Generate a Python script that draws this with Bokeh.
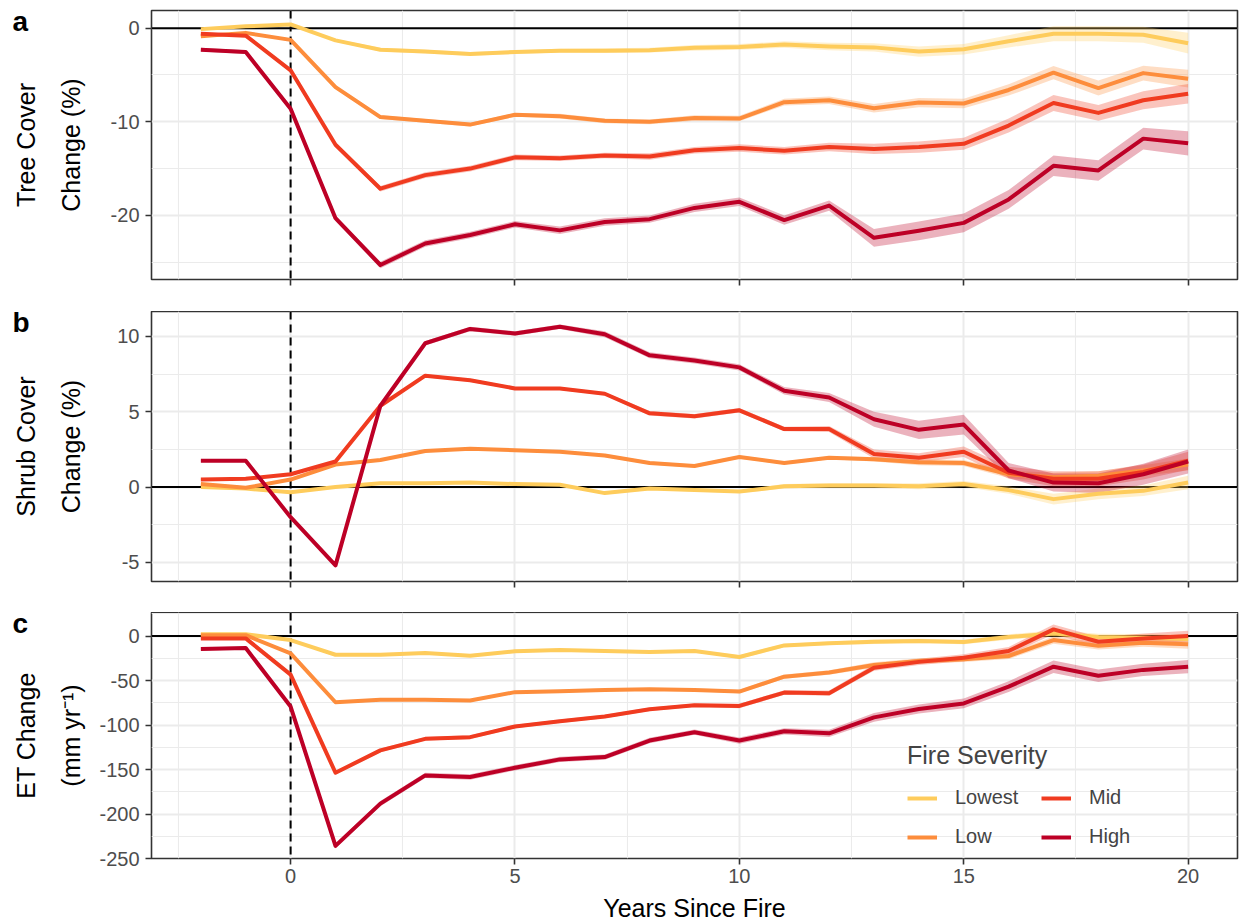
import math
from bokeh.plotting import figure
from bokeh.models import FixedTicker, Range1d, Span, Legend, LegendItem
from bokeh.layouts import column, row
from bokeh.core.properties import value
from bokeh.embed import file_html
from bokeh.resources import INLINE

# ---- data -----------------------------------------------------------------
years = [-2, -1, 0, 1, 2, 3, 4, 5, 6, 7, 8, 9, 10,
         11, 12, 13, 14, 15, 16, 17, 18, 19, 20]
severity = ["Lowest", "Low", "Mid", "High"]
colors = ["#FECC5C", "#FD8D3C", "#F03B20", "#BD0026"]

# Tree cover change (%) and 95% CI half-widths
tree_lowest = [-0.1, 0.2, 0.4, -1.3, -2.3, -2.5, -2.75, -2.55, -2.4, -2.4, -2.35, -2.1,
               -2.0, -1.75, -1.95, -2.05, -2.5, -2.25, -1.4, -0.6, -0.6, -0.7, -1.6]
tree_low = [-0.85, -0.5, -1.25, -6.3, -9.5, -9.9, -10.3, -9.25, -9.4, -9.9, -10.0, -9.6,
            -9.65, -7.9, -7.7, -8.55, -7.95, -8.05, -6.6, -4.75, -6.4, -4.8, -5.4]
tree_mid = [-0.6, -0.8, -4.5, -12.45, -17.15, -15.7, -15.0, -13.8, -13.9, -13.6, -13.7, -13.05,
            -12.8, -13.1, -12.7, -12.9, -12.7, -12.35, -10.4, -8.0, -9.05, -7.7, -7.0]
tree_high = [-2.3, -2.55, -8.6, -20.3, -25.3, -23.0, -22.1, -20.95, -21.6, -20.7, -20.4, -19.2,
             -18.55, -20.5, -18.95, -22.4, -21.65, -20.8, -18.3, -14.7, -15.2, -11.8, -12.3]
tree_lowest_ci = [0.1, 0.1, 0.1, 0.15, 0.2, 0.2, 0.2, 0.2, 0.2, 0.25, 0.25, 0.3,
                  0.3, 0.35, 0.4, 0.45, 0.55, 0.55, 0.65, 0.8, 0.8, 0.85, 1.1]
tree_low_ci = [0.1, 0.1, 0.15, 0.2, 0.2, 0.2, 0.2, 0.2, 0.25, 0.25, 0.25, 0.3,
               0.3, 0.35, 0.4, 0.45, 0.5, 0.5, 0.6, 0.7, 0.8, 0.8, 0.95]
tree_mid_ci = [0.15, 0.15, 0.2, 0.25, 0.3, 0.3, 0.3, 0.3, 0.3, 0.3, 0.35, 0.35,
               0.4, 0.4, 0.45, 0.55, 0.6, 0.65, 0.75, 0.85, 0.85, 0.95, 1.05]
tree_high_ci = [0.2, 0.2, 0.25, 0.3, 0.35, 0.35, 0.35, 0.35, 0.4, 0.4, 0.4, 0.45,
                0.45, 0.5, 0.55, 0.95, 1.0, 1.0, 1.0, 1.1, 1.1, 1.15, 1.3]

# Shrub cover change (%)
shrub_lowest = [0.0, -0.1, -0.35, 0.0, 0.25, 0.25, 0.3, 0.2, 0.15, -0.4, -0.1, -0.2,
                -0.3, 0.05, 0.1, 0.1, 0.05, 0.2, -0.2, -0.8, -0.45, -0.25, 0.3]
shrub_low = [0.2, -0.05, 0.5, 1.5, 1.8, 2.4, 2.55, 2.45, 2.35, 2.1, 1.6, 1.4,
             2.0, 1.6, 1.95, 1.85, 1.65, 1.6, 0.85, 0.65, 0.75, 1.1, 1.5]
shrub_mid = [0.5, 0.55, 0.85, 1.7, 5.4, 7.4, 7.1, 6.55, 6.55, 6.2, 4.9, 4.7,
             5.1, 3.85, 3.85, 2.2, 1.95, 2.35, 0.95, 0.55, 0.55, 1.0, 1.75]
shrub_high = [1.75, 1.75, -2.0, -5.2, 5.4, 9.55, 10.5, 10.2, 10.65, 10.15, 8.75, 8.4,
              7.95, 6.4, 5.95, 4.5, 3.8, 4.15, 1.1, 0.3, 0.25, 0.85, 1.7]
shrub_lowest_ci = [0.05, 0.05, 0.05, 0.05, 0.05, 0.05, 0.05, 0.05, 0.05, 0.1, 0.1, 0.1,
                   0.1, 0.15, 0.15, 0.15, 0.2, 0.2, 0.25, 0.35, 0.35, 0.35, 0.45]
shrub_low_ci = [0.05, 0.05, 0.05, 0.05, 0.05, 0.05, 0.05, 0.05, 0.05, 0.1, 0.1, 0.1,
                0.1, 0.1, 0.1, 0.15, 0.2, 0.2, 0.25, 0.3, 0.3, 0.35, 0.4]
shrub_mid_ci = [0.05, 0.05, 0.05, 0.05, 0.1, 0.1, 0.1, 0.1, 0.1, 0.1, 0.15, 0.15,
                0.15, 0.15, 0.2, 0.3, 0.3, 0.35, 0.4, 0.5, 0.5, 0.5, 0.6]
shrub_high_ci = [0.05, 0.05, 0.1, 0.1, 0.15, 0.15, 0.15, 0.15, 0.15, 0.2, 0.2, 0.2,
                 0.2, 0.25, 0.3, 0.5, 0.6, 0.65, 0.5, 0.6, 0.65, 0.7, 0.8]

# Evapotranspiration change (mm/yr)
et_lowest = [2, 2, -4.5, -21, -21, -19, -22, -17, -15.7, -16.8, -18, -16.8,
             -23.5, -10.5, -8, -6.3, -5.6, -6.7, -1, 3, -1, -1.8, -3.4]
et_low = [1, 1, -19.5, -74.4, -71.7, -71.7, -72.5, -63, -62, -60.5, -59.8, -60.5,
          -62.4, -45.6, -41, -32.5, -28, -26, -22.4, -4.5, -11, -7.5, -9.3]
et_mid = [-2.6, -2.6, -43.3, -153.6, -128.5, -115.5, -113.6, -101.6, -95.7, -90.4, -82.2, -77.7,
          -78.5, -63.5, -64.2, -35.5, -29, -24.3, -16.8, 7.5, -6.4, -2.6, 0]
et_high = [-14.6, -13.5, -79.2, -235.8, -188.3, -156.6, -158.4, -148, -138.6, -136, -117.4, -108,
           -117.4, -107, -109.3, -91.4, -82, -75.7, -56.8, -34.4, -44.5, -38, -34.4]
et_lowest_ci = [1, 1, 1, 1.5, 1.5, 1.5, 1.5, 1.5, 1.5, 1.5, 1.5, 1.5,
                2, 2, 2, 2.5, 2.5, 2.5, 3, 3.5, 3.5, 4, 5]
et_low_ci = [1, 1, 1.5, 1.5, 1.5, 1.5, 1.5, 1.5, 1.5, 1.5, 1.5, 1.5,
             2, 2.5, 2.5, 3, 3, 3, 3.5, 4, 4, 4.5, 5]
et_mid_ci = [1, 1, 1.5, 2, 2, 2, 2, 2, 2, 2, 2, 2,
             2.5, 2.5, 3, 3.5, 3.5, 4, 4.5, 5.5, 5.5, 5.5, 6]
et_high_ci = [1.5, 1.5, 2, 3, 3, 3, 3, 3, 3, 3, 3, 3,
              3.5, 3.5, 4, 5, 5, 5.5, 6, 7, 7, 7, 7.5]

x_major = [0, 5, 10, 15, 20]
x_minor = [-2.5, 2.5, 7.5, 12.5, 17.5]

panel_tags = ["a", "b", "c"]
panel_titles = [("Tree Cover", "Change (%)"),
                ("Shrub Cover", "Change (%)"),
                ("ET Change", "(mm yr\u207b\u00b9)")]

# ---- styling --------------------------------------------------------------
FONT = "Liberation Sans"
W = 1239
H = 921
SIDE_W = 95              # strip holding panel tags and y titles
LEFT, RIGHT = 56, 2      # border of each plot figure around its frame
XR = (-3.1, 21.1)
GRID = "#EBEBEB"
INK = "#333333"


def blank(width, height):
    """A figure without axes/grid used as a canvas for text outside panels."""
    f = figure(width=width, height=height, x_range=Range1d(0, width),
               y_range=Range1d(0, height), output_backend="svg",
               toolbar_location=None, x_axis_location=None, y_axis_location=None,
               min_border_left=0, min_border_right=0, min_border_top=0,
               min_border_bottom=0)
    f.outline_line_color = None
    f.grid.visible = False
    f.background_fill_color = "white"
    f.border_fill_color = "white"
    return f


def make_panel(height, top, bottom, yr, yticks, yminor, means, cis, bottom_labels=False):
    p = figure(width=W - SIDE_W, height=height, x_range=Range1d(*XR),
               y_range=Range1d(*yr), output_backend="svg", toolbar_location=None,
               min_border_left=LEFT, min_border_right=RIGHT,
               min_border_top=top, min_border_bottom=bottom)
    p.background_fill_color = "white"
    p.border_fill_color = "white"
    p.outline_line_color = INK
    p.outline_line_width = 1.6

    grid_xt = FixedTicker(ticks=x_major, minor_ticks=x_minor)
    yt = FixedTicker(ticks=yticks, minor_ticks=yminor)
    p.xgrid.ticker = grid_xt
    p.ygrid.ticker = yt
    p.yaxis.ticker = yt
    for g in (p.xgrid, p.ygrid):
        g.grid_line_color = GRID
        g.grid_line_width = 2
        g.minor_grid_line_color = GRID
        g.minor_grid_line_width = 1.1

    for ax in (p.xaxis, p.yaxis):
        ax.axis_line_color = None
        ax.major_tick_line_color = INK
        ax.major_tick_line_width = 1.6
        ax.major_tick_out = 6
        ax.major_tick_in = 0
        ax.minor_tick_line_color = None
        ax.major_label_text_font = FONT
        ax.major_label_text_font_size = "20px"
        ax.major_label_text_color = "#4D4D4D"
    p.yaxis.major_label_standoff = 6
    p.yaxis.major_label_overrides = {t: str(t) for t in yticks}
    p.xaxis.major_label_standoff = 4

    if bottom_labels:
        p.xaxis.ticker = FixedTicker(ticks=x_major, minor_ticks=[])
    else:
        # tick marks only, no labels: place them as minor ticks
        p.xaxis.ticker = FixedTicker(ticks=[], minor_ticks=x_major)
        p.xaxis.minor_tick_line_color = INK
        p.xaxis.minor_tick_line_width = 1.6
        p.xaxis.minor_tick_out = 6
        p.xaxis.minor_tick_in = 0

    # reference lines: zero change and fire year
    p.add_layout(Span(location=0, dimension="width", line_color="black",
                      line_width=2, level="underlay"))
    p.add_layout(Span(location=0, dimension="height", line_color="black",
                      line_width=2, line_dash="8 5", level="underlay"))

    renderers = []
    for mean, ci, col in zip(means, cis, colors):
        lo = [a - b for a, b in zip(mean, ci)]
        hi = [a + b for a, b in zip(mean, ci)]
        p.varea(x=years, y1=lo, y2=hi, fill_color=col, fill_alpha=0.3)
    for mean, col in zip(means, colors):
        r = p.line(x=years, y=mean, line_color=col, line_width=4, line_join="round")
        renderers.append(r)
    return p, renderers


# (figure height, border above frame, border below frame)
geometry = [(311, 10, 32), (301, 0, 31), (281, 0, 35)]

pa, _ = make_panel(*geometry[0], (-26.85, 1.89), [-20, -10, 0], [-25, -15, -5],
                   [tree_lowest, tree_low, tree_mid, tree_high],
                   [tree_lowest_ci, tree_low_ci, tree_mid_ci, tree_high_ci])
pb, _ = make_panel(*geometry[1], (-6.27, 11.66), [-5, 0, 5, 10], [-2.5, 2.5, 7.5],
                   [shrub_lowest, shrub_low, shrub_mid, shrub_high],
                   [shrub_lowest_ci, shrub_low_ci, shrub_mid_ci, shrub_high_ci])
pc, rend_c = make_panel(*geometry[2], (-250, 26.5), [-250, -200, -150, -100, -50, 0],
                        [-225, -175, -125, -75, -25, 25],
                        [et_lowest, et_low, et_mid, et_high],
                        [et_lowest_ci, et_low_ci, et_mid_ci, et_high_ci],
                        bottom_labels=True)

legend = Legend(items=[LegendItem(label=s, renderers=[r]) for s, r in zip(severity, rend_c)],
                location=(756, 10), orientation="vertical", nrows=2,
                title="Fire Severity", title_text_font=FONT, title_text_font_size="25px",
                title_text_font_style="normal", title_standoff=16,
                label_text_font=FONT, label_text_font_size="20px",
                glyph_width=30, glyph_height=20, label_height=20, label_width=70,
                label_standoff=18, spacing=16, padding=0, margin=0,
                background_fill_alpha=0, border_line_alpha=0)
pc.add_layout(legend)

# left strip spanning all panels: panel tags and two-line y titles
stack_h = sum(g[0] for g in geometry)
side = blank(SIDE_W, stack_h)
tag_y, mid_y, y0 = [], [], 0
for h, top, bottom in geometry:
    tag_y.append(stack_h - (y0 + top + 11))
    mid_y.append(stack_h - (y0 + top + (h - top - bottom) / 2))
    y0 += h
side.text(x=[12] * 3, y=tag_y, text=panel_tags, text_font=value(FONT),
          text_font_size="28px", text_font_style="bold", text_color="black",
          text_align="left", text_baseline="middle")
side.text(x=[25.5] * 3 + [70] * 3, y=mid_y + mid_y,
          text=[t[0] for t in panel_titles] + [t[1] for t in panel_titles],
          angle=math.pi / 2, text_font=value(FONT), text_font_size="25px",
          text_color="black", text_align="center", text_baseline="middle")

# x-axis title strip below the bottom panel
strip_h = H - stack_h
xt = blank(W, strip_h)
xt.text(x=[SIDE_W + LEFT + (W - SIDE_W - LEFT - RIGHT) / 2], y=[strip_h - 14.5],
        text=["Years Since Fire"], text_font=value(FONT), text_font_size="25px",
        text_color="black", text_align="center", text_baseline="middle")

layout = column(row(side, column(pa, pb, pc, spacing=0), spacing=0), xt, spacing=0)
open("out.html", "w").write(file_html(layout, INLINE))
